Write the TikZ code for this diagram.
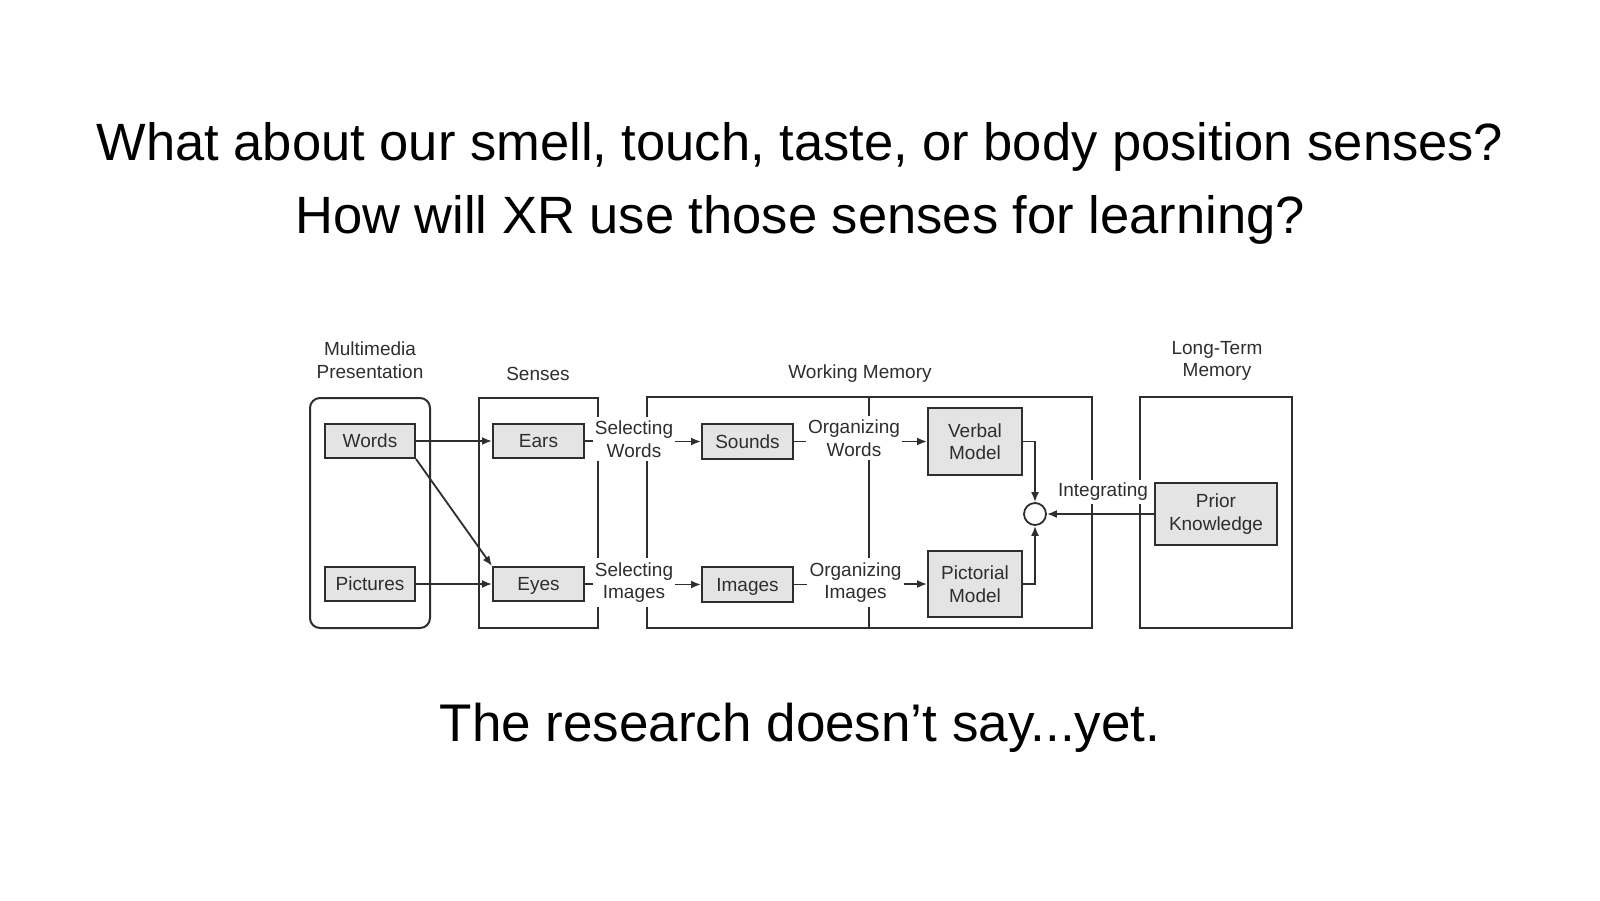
\documentclass[tikz,border=0pt]{standalone}
\usepackage{fontspec}
\setmainfont{Liberation Sans}
\usetikzlibrary{arrows.meta}
\definecolor{ink}{HTML}{2E2E2E}
\definecolor{boxfill}{HTML}{E4E4E4}
\begin{document}
\begin{tikzpicture}[x=1pt,y=-1pt,
  lbl/.style={font=\fontsize{19}{22.5}\selectfont, text=ink, align=center},
  item/.style={draw=ink, line width=2pt, fill=boxfill, lbl, inner sep=0pt},
  region/.style={draw=ink, line width=2pt, inner sep=0pt},
  proc/.style={lbl, fill=white, inner xsep=2pt, inner ysep=4pt},
  link/.style={draw=ink, line width=1.8pt},
  arr/.style={link, -{Latex[length=10pt,width=8pt]}},
  title/.style={font=\fontsize{52.5}{60}\selectfont, anchor=base}]
\useasboundingbox (0,0) rectangle (1600,900);
\fill[white] (0,0) rectangle (1600,900);

% headline and closing line
\node[title] (q1) at (800,160) {What about our smell, touch, taste, or body position senses?};
\node[title] (q2) at (800,233) {How will XR use those senses for learning?};
\node[title, font=\fontsize{53}{60}\selectfont] (ans) at (800,741) {The research doesn’t say...yet.};

% stage containers
\node[region, rounded corners=10pt, minimum width=120pt, minimum height=230pt] (mmbox) at (370,513) {};
\node[region, minimum width=119pt, minimum height=230pt] (sensebox) at (538.5,513) {};
\node[region, minimum width=445pt, minimum height=231pt] (wmbox) at (869.5,512.5) {};
\node[region, minimum width=152pt, minimum height=231pt] (ltmbox) at (1216,512.5) {};
\coordinate (divtop) at (869,397);
\coordinate (divbot) at (869,628);
\draw[region] (divtop) -- (divbot);

% stage headings
\node[lbl] (hmm) at (370,360) {Multimedia\\Presentation};
\node[lbl] (hsen) at (538,374) {Senses};
\node[lbl] (hwm) at (860,374) {Working Memory};
\node[lbl] (hltm) at (1217,361) {Long-Term\\Memory};

% content boxes
\node[item, minimum width=90pt, minimum height=34pt] (words) at (370,441) {Words};
\node[item, minimum width=90pt, minimum height=34pt] (pictures) at (370,584) {Pictures};
\node[item, minimum width=91pt, minimum height=34pt] (ears) at (538.5,441) {Ears};
\node[item, minimum width=91pt, minimum height=34pt, text depth=0pt] (eyes) at (538.5,584) {Eyes};
\node[item, minimum width=91pt, minimum height=35pt] (sounds) at (747.5,441.5) {Sounds};
\node[item, minimum width=91pt, minimum height=35pt, text depth=0pt] (images) at (747.5,584.5) {Images};
\node[item, minimum width=94pt, minimum height=67pt] (verbal) at (975,441.5) {Verbal\\Model};
\node[item, minimum width=94pt, minimum height=66pt] (pictorial) at (975,584) {Pictorial\\Model};
\node[item, minimum width=122pt, minimum height=62pt] (prior) at (1216,514) {Prior\\Knowledge};

% cognitive processes
\node[proc] (selw) at (634,439) {Selecting\\Words};
\node[proc] (seli) at (634,582.5) {Selecting\\Images};
\node[proc] (orgw) at (854,438) {Organizing\\Words};
\node[proc] (orgi) at (855.5,582.5) {Organizing\\Images};
\node[proc, inner ysep=3pt] (integ) at (1103,492) {Integrating};
\node[circle, draw=ink, line width=1.8pt, fill=white, minimum size=22pt, inner sep=0pt] (circ) at (1035,514) {};

% connectors
\draw[arr] (words.east) -- (ears.west);
\draw[arr] (words.south east) -- (eyes.north west);
\draw[arr] (pictures.east) -- (eyes.west);
\draw[link] (ears.east) -- (ears.east -| selw.west);
\draw[link] (eyes.east) -- (eyes.east -| seli.west);
\draw[arr] (sounds.west -| selw.east) -- (sounds.west);
\draw[arr] (images.west -| seli.east) -- (images.west);
\draw[link] (sounds.east) -- (sounds.east -| orgw.west);
\draw[link] (images.east) -- (images.east -| orgi.west);
\draw[arr] (verbal.west -| orgw.east) -- (verbal.west);
\draw[arr] (pictorial.west -| orgi.east) -- (pictorial.west);
\draw[arr] (verbal.east) -| (circ.north);
\draw[arr] (pictorial.east) -| (circ.south);
\draw[arr] (prior.west) -- (circ.east);
\end{tikzpicture}
\end{document}
